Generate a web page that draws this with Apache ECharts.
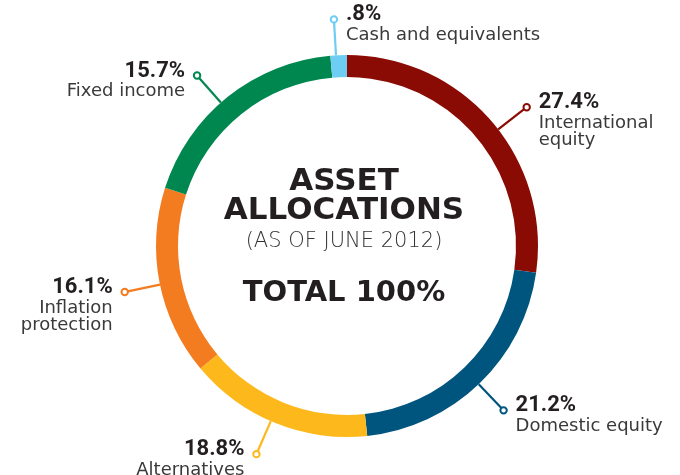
<!DOCTYPE html>
<html><head><meta charset="utf-8">
<script src="https://cdn.jsdelivr.net/npm/echarts@6/dist/echarts.min.js"></script>
<style>html,body{margin:0;padding:0;background:#fff}#c{width:680px;height:475px}</style>
</head><body><div id="c"></div>
<script>
// ---- data ----
const categories = ['International\nequity', 'Domestic equity', 'Alternatives', 'Inflation\nprotection', 'Fixed income', 'Cash and equivalents'];
const percentLabels = ['27.4%', '21.2%', '18.8%', '16.1%', '15.7%', '.8%'];
// share of the ring each segment occupies as drawn in the reference
const arcShares = [27.4, 21.2, 15.7, 16.1, 18.8, 0.8];
const colors = ['#8a0b03', '#00557f', '#fdb81b', '#f47c20', '#00874f', '#6dcdf3'];
const titleLines = ['ASSET', 'ALLOCATIONS', '(AS OF JUNE 2012)', 'TOTAL 100%'];

// ---- layout / style ----
const CX = 347, CY = 246, R0 = 169, R1 = 191, MIN_ANGLE = 5;
const labelSide = ['right', 'right', 'left', 'left', 'left', 'right'];
const angleNudge = [3.3, 0.4, 1.5, -0.6, -2.7, -0.8];
const DOT_R = 227, DOT_SIZE = 3.2;

// replicate pie angle layout (same rule as ECharts minAngle)
const total = arcShares.reduce((a, b) => a + b, 0);
let rest = 360, bigSum = 0;
const isSmall = arcShares.map(v => v / total * 360 < MIN_ANGLE);
arcShares.forEach((v, i) => { if (isSmall[i]) rest -= MIN_ANGLE; else bigSum += v; });
let cum = 0;
const mids = arcShares.map((v, i) => {
  const a = isSmall[i] ? MIN_ANGLE : v / bigSum * rest;
  const m = cum + a / 2; cum += a; return m;
});

const graphics = [];
mids.forEach((m, i) => {
  const th = (m + angleNudge[i]) * Math.PI / 180;
  const s = Math.sin(th), c = Math.cos(th);
  const sx = CX + R1 * s, sy = CY - R1 * c;
  const ex = CX + DOT_R * s, ey = CY - DOT_R * c;
  graphics.push({ type: 'line', z: 10, shape: { x1: sx, y1: sy, x2: CX + (DOT_R - DOT_SIZE) * s, y2: CY - (DOT_R - DOT_SIZE) * c },
    style: { stroke: colors[i], lineWidth: 2.2 } });
  graphics.push({ type: 'circle', z: 11, shape: { cx: ex, cy: ey, r: DOT_SIZE },
    style: { fill: '#fff', stroke: colors[i], lineWidth: 2 } });
  const right = labelSide[i] === 'right';
  const txt = '{p|' + percentLabels[i] + '}\n' + categories[i].split('\n').map(t => '{t|' + t + '}').join('\n');
  graphics.push({ type: 'text', z: 12, x: right ? ex + 12 : ex - 12, y: ey - 4.5 - 12,
    style: { text: txt, align: right ? 'left' : 'right', verticalAlign: 'top',
      rich: {
        p: { fontFamily: 'Roboto', fontWeight: 'bold', fontSize: 22, lineHeight: 24, fill: '#231f20' },
        t: { fontFamily: 'DejaVu Sans', fontSize: 18, lineHeight: 17, fill: '#3a3a3a' }
      } } });
});

const titleY = [182, 211, 242, 293];
const titleFont = [
  { fontFamily: 'DejaVu Sans', fontWeight: 'bold', fontSize: 31, fill: '#231f20' },
  { fontFamily: 'DejaVu Sans', fontWeight: 'bold', fontSize: 31, fill: '#231f20' },
  { fontFamily: "'DejaVu Sans ExtraLight', 'DejaVu Sans'", fontWeight: 200, fontSize: 21, fill: '#333' },
  { fontFamily: 'DejaVu Sans', fontWeight: 'bold', fontSize: 29, fill: '#231f20' }
];
titleLines.forEach((t, i) => {
  graphics.push({ type: 'text', z: 12, x: 344, y: titleY[i],
    style: Object.assign({ text: t, align: 'center', verticalAlign: 'middle' }, titleFont[i]) });
});

const chart = echarts.init(document.getElementById('c'), null, { renderer: 'canvas' });
chart.setOption({
  animation: false,
  backgroundColor: '#fff',
  series: [{
    type: 'pie',
    center: [CX, CY],
    radius: [R0, R1],
    startAngle: 90,
    clockwise: true,
    minAngle: MIN_ANGLE,
    avoidLabelOverlap: false,
    label: { show: false },
    labelLine: { show: false },
    emphasis: { disabled: true },
    itemStyle: { borderWidth: 0 },
    data: arcShares.map((v, i) => ({ name: categories[i], value: v, itemStyle: { color: colors[i] } }))
  }],
  graphic: graphics
});
</script></body></html>
